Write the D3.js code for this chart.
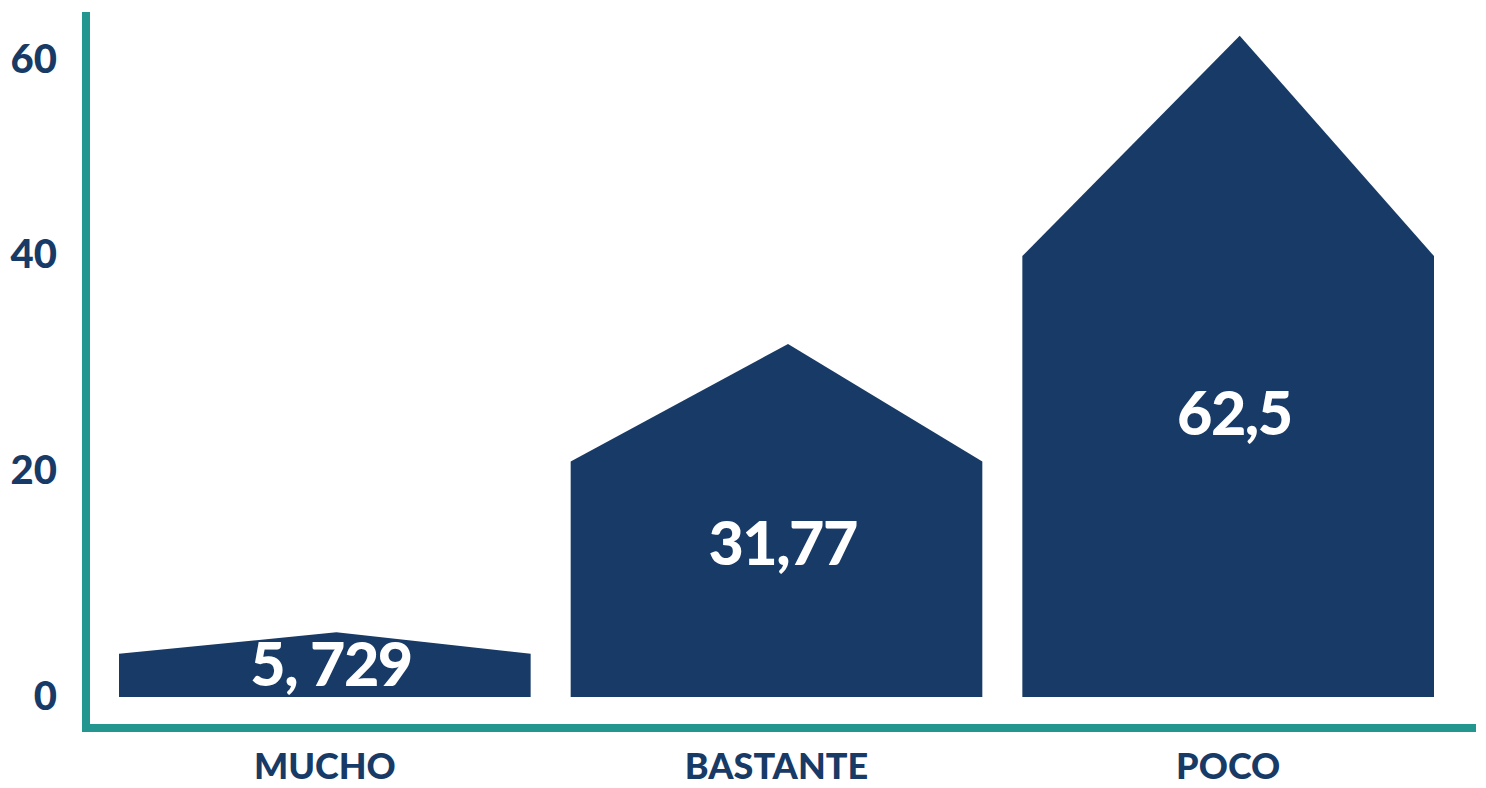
<!DOCTYPE html>
<html>
<head>
<meta charset="utf-8">
<script src="https://cdn.jsdelivr.net/npm/d3@7"></script>
<style>
  html, body { margin: 0; padding: 0; background: #ffffff; }
  svg { display: block; }
  .tick text { font-family: Lato, "Noto Sans", sans-serif; font-weight: 900; fill: #173a66; }
</style>
</head>
<body>
<svg id="chart" width="1486" height="788"></svg>
<script>
// ---- data ----
const categories = ["MUCHO", "BASTANTE", "POCO"];
const values = [5.729, 31.77, 62.5];
const valueLabels = ["5, 729", "31,77", "62,5"];
const yTicks = [0, 20, 40, 60];

// ---- styles ----
const navy = "#173a66";
const teal = "#23978f";

const svg = d3.select("#chart");

const x = d3.scaleBand()
  .domain(categories)
  .range([119, 1434])
  .paddingInner(0.0886)
  .paddingOuter(0);

// the source axis is not evenly spaced; piecewise linear scale through its tick positions
const y = d3.scaleLinear()
  .domain(yTicks)
  .range([697, 471, 255, 60]);

// axis lines
svg.append("line")
  .attr("x1", 86).attr("x2", 86)
  .attr("y1", 12).attr("y2", 732)
  .attr("stroke", teal).attr("stroke-width", 8);
svg.append("line")
  .attr("x1", 82).attr("x2", 1476)
  .attr("y1", 728).attr("y2", 728)
  .attr("stroke", teal).attr("stroke-width", 8);

// house-shaped bars
const apexFrac = 0.528;     // apex position along bar width
const shoulderFrac = 2 / 3; // shoulder height relative to apex height
const data = categories.map((c, i) => ({ c, v: values[i], label: valueLabels[i] }));

svg.append("g").selectAll("path")
  .data(data)
  .join("path")
  .attr("fill", navy)
  .attr("d", d => {
    const x0 = x(d.c), x1 = x0 + x.bandwidth();
    const base = y(0), apex = y(d.v);
    const shoulder = base - (base - apex) * shoulderFrac;
    const ax = x0 + x.bandwidth() * apexFrac;
    return `M${x0},${base}L${x0},${shoulder}L${ax},${apex}L${x1},${shoulder}L${x1},${base}Z`;
  });

// value labels
svg.append("g").selectAll("text")
  .data(data)
  .join("text")
  .attr("x", d => x(d.c) + x.bandwidth() * 0.515)
  .attr("y", d => y(0) - 6 - (y(0) - y(d.v)) * 0.42)
  .attr("dy", "0.36em")
  .attr("text-anchor", "middle")
  .attr("font-family", "Lato, 'Noto Sans', sans-serif")
  .attr("font-weight", 900)
  .attr("font-size", 61)
  .attr("letter-spacing", -1.5)
  .attr("fill", "#ffffff")
  .text(d => d.label);

// y axis labels
const yAxis = d3.axisLeft(y).tickValues(yTicks).tickSize(0).tickPadding(0).tickFormat(d3.format("d"));
const gy = svg.append("g").attr("transform", "translate(57,0)").call(yAxis);
gy.select(".domain").remove();
gy.selectAll("text").style("font-size", "40px");

// x axis labels
const xAxis = d3.axisBottom(x).tickSize(0).tickPadding(0);
const gx = svg.append("g").attr("transform", "translate(0,753)").call(xAxis);
gx.select(".domain").remove();
gx.selectAll("text").style("font-size", "36px");
</script>
</body>
</html>
